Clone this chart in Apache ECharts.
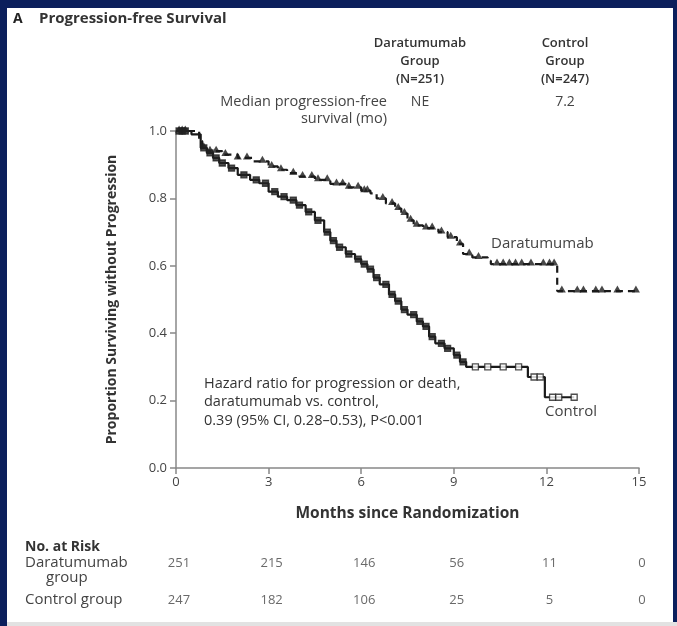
<!DOCTYPE html>
<html>
<head>
<meta charset="utf-8">
<script src="https://cdn.jsdelivr.net/npm/echarts@6/dist/echarts.min.js"></script>
<style>
html,body{margin:0;padding:0;background:#0b1f5c;}
#c{width:677px;height:626px;}
</style>
</head>
<body>
<div id="c"></div>
<script>
// ---- data ----
var xTicks = [0, 3, 6, 9, 12, 15];
var yTicks = [0, 0.2, 0.4, 0.6, 0.8, 1.0];

// Kaplan-Meier steps [month, survival after step]
var daraSteps = [
  [0,1.0],[0.75,0.97],[0.85,0.95],[1.0,0.94],[1.5,0.93],[2.0,0.92],[2.5,0.91],
  [3.0,0.895],[3.3,0.885],[3.6,0.875],[4.0,0.865],[4.5,0.855],[5.0,0.843],
  [5.5,0.833],[6.0,0.823],[6.3,0.815],[6.5,0.80],[6.8,0.785],[7.1,0.77],
  [7.3,0.755],[7.5,0.735],[7.7,0.72],[8.0,0.712],[8.5,0.70],[8.8,0.685],
  [9.1,0.665],[9.3,0.635],[9.6,0.625],[10.1,0.615],[10.2,0.605],[12.35,0.525],
  [14.9,0.525]
];
var controlSteps = [
  [0,1.0],[0.5,0.99],[0.8,0.95],[1.0,0.935],[1.2,0.92],[1.4,0.905],[1.7,0.89],
  [2.0,0.87],[2.4,0.855],[2.7,0.845],[3.0,0.82],[3.3,0.805],[3.6,0.795],
  [3.9,0.78],[4.2,0.76],[4.5,0.735],[4.8,0.70],[5.0,0.675],[5.2,0.655],
  [5.5,0.635],[5.8,0.62],[6.0,0.605],[6.2,0.59],[6.4,0.565],[6.6,0.545],
  [6.9,0.515],[7.1,0.495],[7.3,0.47],[7.5,0.455],[7.8,0.435],[8.0,0.42],
  [8.2,0.39],[8.4,0.37],[8.7,0.355],[9.0,0.335],[9.2,0.315],[9.4,0.30],
  [11.4,0.27],[11.95,0.21],[12.9,0.21]
];
// censoring times (months)
var daraCensor = [0.1,0.2,0.3,0.9,1.1,1.3,1.6,2.0,2.3,2.8,3.1,3.4,3.8,4.1,4.4,4.6,4.9,
  5.2,5.4,5.6,5.9,6.1,6.2,6.7,7.0,7.2,7.4,7.6,7.8,8.1,8.3,8.6,8.9,9.2,9.5,9.8,10.4,
  10.6,10.8,11.0,11.2,11.5,11.9,12.1,12.25,12.5,13.0,13.2,13.6,13.8,14.3,14.9];
var controlCensor = [0.1,0.2,0.3,0.9,1.1,1.3,1.5,1.8,2.2,2.6,2.9,3.2,3.5,3.8,4.0,4.3,4.6,
  4.9,5.1,5.3,5.6,5.9,6.1,6.3,6.5,6.8,7.0,7.2,7.4,7.7,7.9,8.1,8.3,8.6,8.8,9.1,
  9.3,9.7,10.1,10.6,11.1,11.6,11.8,12.2,12.4,12.9];

var riskTimes = [0, 3, 6, 9, 12, 15];
var daraRisk = [251, 215, 146, 56, 11, 0];
var controlRisk = [247, 182, 106, 25, 5, 0];

// ---- helpers ----
function stepAt(steps, t){
  var v = steps[0][1];
  for (var i=0;i<steps.length;i++){ if (steps[i][0] <= t) v = steps[i][1]; }
  return v;
}
var daraCensorPts = daraCensor.map(function(t){return [t, stepAt(daraSteps,t)];});
var controlCensorPts = controlCensor.map(function(t){
  return {value:[t, stepAt(controlSteps,t)],
    itemStyle:{color: t>9.4 ? '#ffffff' : '#222', borderColor:'#222', borderWidth:1.3}};
});
var riskData = [];
riskTimes.forEach(function(t,i){
  riskData.push({value:[t,1], label:{formatter:String(daraRisk[i])}});
  riskData.push({value:[t,0], label:{formatter:String(controlRisk[i])}});
});

var F = '"Open Sans", "Liberation Sans", sans-serif';
function txt(x,y,text,opt){
  opt = opt||{};
  return {type:'text', x:x, y:y, z:10, style:{text:text,
    font:(opt.w||'normal')+' '+(opt.s||13)+'px '+F,
    fill:opt.c||'#444', align:opt.a||'left', verticalAlign:'middle'}};
}

var chart = echarts.init(document.getElementById('c'), null, {renderer:'canvas'});
chart.setOption({
  backgroundColor:'#0b1f5c',
  animation:false,
  graphic:[
    {type:'rect', z:-10, silent:true, shape:{x:7,y:8,width:666,height:618}, style:{fill:'#ffffff'}},
    {type:'rect', z:-9, silent:true, shape:{x:7,y:622,width:670,height:4}, style:{fill:'#e2e2e2'}},
    txt(13,19,'A',{w:'bold',s:14,c:'#222'}),
    txt(39,19,'Progression-free Survival',{w:'bold',s:15,c:'#333'}),
    txt(420,43,'Daratumumab',{w:'600',s:13,a:'center',c:'#333'}),
    txt(420,61,'Group',{w:'600',s:13,a:'center',c:'#333'}),
    txt(420,79,'(N=251)',{w:'600',s:13,a:'center',c:'#333'}),
    txt(565,43,'Control',{w:'600',s:13,a:'center',c:'#333'}),
    txt(565,61,'Group',{w:'600',s:13,a:'center',c:'#333'}),
    txt(565,79,'(N=247)',{w:'600',s:13,a:'center',c:'#333'}),
    txt(387,102,'Median progression-free',{a:'right',s:14.5}),
    txt(387,119,'survival (mo)',{a:'right',s:14.5}),
    txt(420,102,'NE',{a:'center',s:14}),
    txt(565,102,'7.2',{a:'center',s:14}),
    txt(491,244,'Daratumumab',{s:15}),
    txt(545,412,'Control',{s:15}),
    txt(204,384,'Hazard ratio for progression or death,',{s:14.5,c:'#333'}),
    txt(204,402,'daratumumab vs. control,',{s:14.5,c:'#333'}),
    txt(204,421,'0.39 (95% CI, 0.28\u20130.53), P<0.001',{s:14.5,c:'#333'}),
    txt(25,547,'No. at Risk',{w:'bold',s:14,c:'#333'}),
    txt(25,563,'Daratumumab',{s:15}),
    txt(46,578,'group',{s:15}),
    txt(25,600,'Control group',{s:15})
  ],
  grid:[
    {left:176, top:131, width:463, height:337},
    {left:176, top:563, width:463, height:37}
  ],
  xAxis:[
    {gridIndex:0, type:'value', min:0, max:15, interval:3,
      name:'Months since Randomization', nameLocation:'middle', nameGap:38,
      nameTextStyle:{fontFamily:F, fontWeight:'bold', fontSize:15.5, color:'#333'},
      axisLine:{show:true, lineStyle:{color:'#888', width:1.5}},
      axisTick:{show:true, length:6, lineStyle:{color:'#888', width:1.5}},
      axisLabel:{color:'#444', fontFamily:F, fontSize:13, margin:8},
      splitLine:{show:false}},
    {gridIndex:1, type:'value', min:0, max:15, show:false}
  ],
  yAxis:[
    {gridIndex:0, type:'value', min:0, max:1, interval:0.2,
      name:'Proportion Surviving without Progression', nameLocation:'middle', nameGap:57,
      nameTextStyle:{fontFamily:F, fontWeight:'bold', fontSize:14, color:'#333'},
      axisLine:{show:true, lineStyle:{color:'#888', width:1.5}},
      axisTick:{show:true, length:6, lineStyle:{color:'#888', width:1.5}},
      axisLabel:{color:'#444', fontFamily:F, fontSize:13, margin:9,
        formatter:function(v){return v.toFixed(1);}},
      splitLine:{show:false}},
    {gridIndex:1, type:'value', min:0, max:1, show:false}
  ],
  series:[
    {type:'line', name:'Daratumumab', step:'end', data:daraSteps, symbol:'none',
      lineStyle:{color:'#1a1a1a', width:2.2, type:[7,5]}, z:3},
    {type:'line', name:'Control', step:'end', data:controlSteps, symbol:'none',
      lineStyle:{color:'#1a1a1a', width:2.2}, z:3},
    {type:'scatter', data:daraCensorPts, symbol:'triangle', symbolSize:[8,7],
      symbolOffset:[0,-2], itemStyle:{color:'#1a1a1a'}, z:4},
    {type:'scatter', data:controlCensorPts, symbol:'rect', symbolSize:6, z:4},
    {type:'scatter', xAxisIndex:1, yAxisIndex:1, data:riskData, symbolSize:0,
      label:{show:true, position:'inside', offset:[3,0], color:'#444', fontFamily:F, fontSize:13}}
  ]
});
</script>
</body>
</html>
